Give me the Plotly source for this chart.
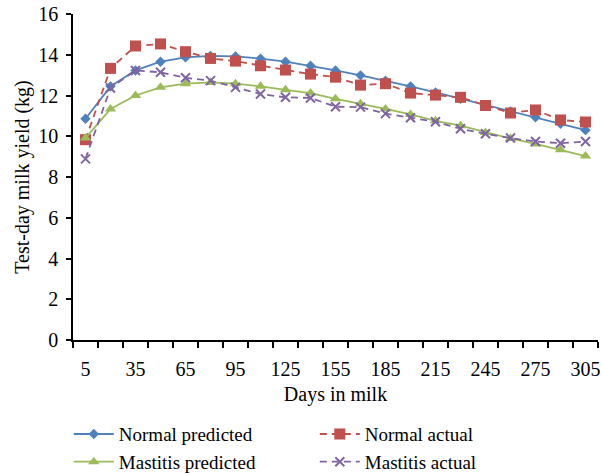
import plotly.graph_objects as go

days = [5, 20, 35, 50, 65, 80, 95, 110, 125, 140, 155, 170, 185, 200, 215, 230, 245, 260, 275, 290, 305]
normal_predicted = [10.86, 12.45, 13.23, 13.66, 13.87, 13.94, 13.92, 13.81, 13.66, 13.46, 13.23, 12.99, 12.73, 12.45, 12.15, 11.84, 11.53, 11.22, 10.93, 10.61, 10.30]
normal_actual = [9.83, 13.33, 14.43, 14.53, 14.15, 13.82, 13.69, 13.46, 13.25, 13.05, 12.90, 12.51, 12.58, 12.12, 12.02, 11.91, 11.51, 11.14, 11.29, 10.80, 10.70]
mastitis_predicted = [9.91, 11.34, 12.00, 12.40, 12.58, 12.64, 12.58, 12.45, 12.28, 12.12, 11.84, 11.60, 11.34, 11.07, 10.76, 10.52, 10.19, 9.89, 9.62, 9.34, 9.03]
mastitis_actual = [8.89, 12.37, 13.23, 13.14, 12.87, 12.73, 12.40, 12.07, 11.91, 11.88, 11.45, 11.43, 11.11, 10.91, 10.71, 10.37, 10.12, 9.91, 9.74, 9.66, 9.74]
x_ticks = [5, 35, 65, 95, 125, 155, 185, 215, 245, 275, 305]
y_ticks = [0, 2, 4, 6, 8, 10, 12, 14, 16]

BLUE, RED, GREEN, PURPLE = "#4F81BD", "#C0504D", "#9BBB59", "#8064A2"
FONT = "Liberation Serif"
FS = 20

fig = go.Figure()
fig.add_trace(go.Scatter(x=days, y=normal_predicted, name="Normal predicted", mode="lines+markers",
                         line=dict(color=BLUE, width=1.8), legend="legend",
                         marker=dict(symbol="diamond", size=8, color=BLUE)))
fig.add_trace(go.Scatter(x=days, y=normal_actual, name="Normal actual", mode="lines+markers",
                         line=dict(color=RED, width=1.8, dash="7px,5px"), legend="legend2",
                         marker=dict(symbol="square", size=11, color=RED)))
fig.add_trace(go.Scatter(x=days, y=mastitis_predicted, name="Mastitis predicted", mode="lines+markers",
                         line=dict(color=GREEN, width=1.8), legend="legend",
                         marker=dict(symbol="triangle-up", size=10, color=GREEN)))
fig.add_trace(go.Scatter(x=days, y=mastitis_actual, name="Mastitis actual", mode="lines+markers",
                         line=dict(color=PURPLE, width=1.8, dash="7px,5px"), legend="legend2",
                         marker=dict(symbol="x-thin", size=9, color=PURPLE,
                                     line=dict(color=PURPLE, width=2))))

legend_common = dict(orientation="v", xref="paper", yref="container", xanchor="left",
                     y=0.126, yanchor="top", itemwidth=40, tracegroupgap=0,
                     font=dict(family=FONT, size=19), bgcolor="rgba(0,0,0,0)")

fig.update_layout(
    width=602, height=475,
    margin=dict(l=73, r=4, t=13.5, b=135),
    paper_bgcolor="white", plot_bgcolor="white",
    font=dict(family=FONT, size=FS, color="black"),
    showlegend=True,
    legend=dict(x=-0.008, **legend_common),
    legend2=dict(x=0.4606, **legend_common),
)
fig.update_xaxes(
    automargin=False,
    range=[-2.5, 312.5], tickmode="array", tickvals=x_ticks, tickangle=0,
    ticks="outside", ticklen=6, tickcolor="rgba(0,0,0,0)", ticklabelstandoff=4,
    minor=dict(tick0=-2.5, dtick=15, ticks="outside", ticklen=6, tickcolor="black", tickwidth=1.5),
    showline=True, linecolor="black", linewidth=1.5, showgrid=False, zeroline=False,
    tickfont=dict(family=FONT, size=FS),
    title=dict(text="Days in milk", font=dict(family=FONT, size=FS), standoff=8),
)
fig.update_yaxes(
    automargin=False,
    range=[0, 16], tickmode="array", tickvals=y_ticks,
    ticks="outside", ticklen=5, tickcolor="black", tickwidth=1.5, ticklabelstandoff=4,
    showline=True, linecolor="black", linewidth=1.5, showgrid=False, zeroline=False,
    tickfont=dict(family=FONT, size=FS),
    title=dict(text="Test-day milk yield (kg)", font=dict(family=FONT, size=FS), standoff=3),
)

fig.write_html("out.html", config={"displayModeBar": False},
               post_script="document.body.style.margin='0px';")
